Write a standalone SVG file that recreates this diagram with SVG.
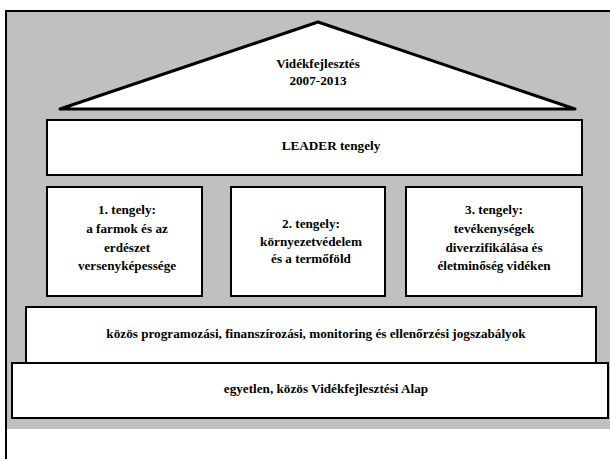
<svg xmlns="http://www.w3.org/2000/svg" width="610" height="459" viewBox="0 0 610 459">
<style>
.box{fill:#fff;stroke:#000;stroke-width:2}
.t{font-family:'Liberation Serif','DejaVu Serif',serif;font-weight:bold;font-size:13.2px;fill:#000;text-anchor:middle}
</style>
<rect x="0" y="0" width="610" height="459" fill="#fff"/>
<rect x="6" y="11" width="606" height="418" fill="#c0c0c0"/>
<line x1="5" y1="11" x2="610" y2="11" stroke="#000" stroke-width="2"/>
<line x1="6" y1="10" x2="6" y2="459" stroke="#000" stroke-width="2"/>
<g id="roof">
<polygon points="60,109 318,22 575,109" fill="#fff" stroke="#000" stroke-width="3" stroke-linejoin="round"/>
<text class="t" x="318" y="68">Vidékfejlesztés</text>
<text class="t" x="318" y="85">2007-2013</text>
</g>
<g id="leader">
<rect class="box" x="47" y="120" width="535" height="55"/>
<text class="t" x="331" y="150">LEADER tengely</text>
</g>
<g id="axis1">
<rect class="box" x="47" y="187" width="155" height="109"/>
<text class="t" x="127" y="214">1. tengely:</text>
<text class="t" x="127" y="233">a farmok és az</text>
<text class="t" x="127" y="252">erdészet</text>
<text class="t" x="127" y="270">versenyképessége</text>
</g>
<g id="axis2">
<rect class="box" x="231" y="187" width="154" height="109"/>
<text class="t" x="311" y="228">2. tengely:</text>
<text class="t" x="311" y="246">környezetvédelem</text>
<text class="t" x="311" y="263">és a termőföld</text>
</g>
<g id="axis3">
<rect class="box" x="406" y="187" width="176" height="109"/>
<text class="t" x="494" y="214">3. tengely:</text>
<text class="t" x="494" y="233">tevékenységek</text>
<text class="t" x="494" y="252">diverzifikálása és</text>
<text class="t" x="494" y="270">életminőség vidéken</text>
</g>
<g id="rules">
<rect class="box" x="26" y="307" width="570" height="56"/>
<text class="t" x="316" y="338">közös programozási, finanszírozási, monitoring és ellenőrzési jogszabályok</text>
</g>
<g id="fund">
<rect class="box" x="12" y="363" width="596" height="55"/>
<text class="t" x="326" y="393">egyetlen, közös Vidékfejlesztési Alap</text>
</g>
<g id="connectors"></g>
</svg>
